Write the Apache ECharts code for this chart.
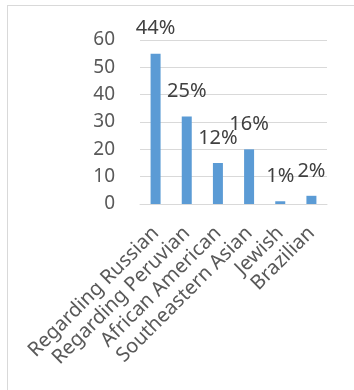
<!DOCTYPE html>
<html>
<head>
<meta charset="utf-8">
<script src="https://cdn.jsdelivr.net/npm/echarts@6/dist/echarts.min.js"></script>
<style>
html,body{margin:0;padding:0;background:#fff;}
#frame{position:absolute;left:7px;top:5px;width:347px;height:385px;border-top:1px solid #d9d9d9;border-left:1px solid #d9d9d9;}
#main{position:absolute;left:0;top:0;width:354px;height:390px;}
</style>
</head>
<body>
<div id="frame"></div>
<div id="main"></div>
<script>
var categories = ["Regarding Russian", "Regarding Peruvian", "African American", "Southeastern Asian", "Jewish", "Brazilian"];
var values = [55, 32, 15, 20, 1, 3];
var percentLabels = ["44%", "25%", "12%", "16%", "1%", "2%"];

var chart = echarts.init(document.getElementById('main'));
chart.setOption({
  animation: false,
  grid: {left: 140, right: 27, top: 40, bottom: 186, containLabel: false},
  xAxis: {
    type: 'category',
    data: categories,
    axisLine: {lineStyle: {color: '#d9d9d9'}},
    axisTick: {show: false},
    axisLabel: {rotate: 45, interval: 0, color: '#595959', fontSize: 20, fontFamily: 'Noto Sans', margin: 26}
  },
  yAxis: {
    type: 'value',
    min: 0, max: 60, interval: 10,
    axisLine: {show: false},
    axisTick: {show: false},
    splitLine: {lineStyle: {color: '#d9d9d9'}},
    axisLabel: {color: '#595959', fontSize: 19, fontFamily: 'Noto Sans', margin: 25}
  },
  series: [{
    type: 'bar',
    data: values,
    barWidth: 10,
    itemStyle: {color: '#5b9bd5'},
    label: {
      show: true,
      position: 'top',
      distance: 15,
      color: '#404040',
      fontSize: 20,
      fontFamily: 'Noto Sans',
      formatter: function(p){ return percentLabels[p.dataIndex]; }
    }
  }]
});
</script>
</body>
</html>
